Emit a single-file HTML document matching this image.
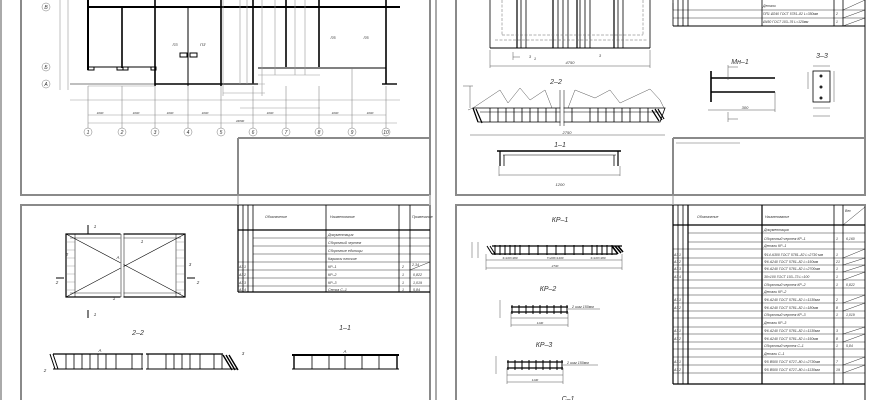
<!DOCTYPE html>
<html><head><meta charset="utf-8"><style>
html,body{margin:0;padding:0;background:#fff;}
svg{display:block;}
text{font-family:"Liberation Sans","DejaVu Sans",sans-serif;font-style:italic;fill:#333;}
</style></head><body>
<svg width="870" height="400" viewBox="0 0 870 400" xmlns="http://www.w3.org/2000/svg">
<rect width="870" height="400" fill="#fff"/>
<!-- sheet frames -->
<g fill="none" stroke="#8a8a8a" stroke-width="2">
<line x1="1" y1="0" x2="1" y2="400" stroke="#aaa"/>
<line x1="436" y1="0" x2="436" y2="400" stroke="#aaa"/>
<rect x="21" y="-5" width="409" height="200"/>
<rect x="456" y="-5" width="409" height="200"/>
<rect x="21" y="205" width="409" height="200"/>
<rect x="456" y="205" width="409" height="200"/>
<line x1="238" y1="138" x2="430" y2="138"/><line x1="238" y1="138" x2="238" y2="195"/>
<line x1="673" y1="138" x2="865" y2="138"/><line x1="673" y1="138" x2="673" y2="195"/>
<line x1="430" y1="195" x2="430" y2="205" stroke="#bbb"/>
</g>
<line x1="238" y1="195" x2="238" y2="205" stroke="#999"/>
<line x1="673" y1="195" x2="673" y2="205" stroke="#999"/>
<line x1="676" y1="143" x2="740" y2="143" stroke="#666" stroke-width="0.6"/>

<!-- TOP LEFT plan -->
<g stroke="#000" fill="none">
<line x1="88" y1="7" x2="400" y2="7" stroke-width="2"/>
<line x1="88" y1="0" x2="88" y2="70" stroke-width="2"/>
<line x1="122" y1="7" x2="122" y2="68" stroke-width="1.6"/>
<line x1="155" y1="0" x2="155" y2="86" stroke-width="1.6"/>
<line x1="188" y1="7" x2="188" y2="86" stroke-width="1"/>
<line x1="221" y1="0" x2="221" y2="86" stroke-width="1.6"/>
<line x1="253" y1="0" x2="253" y2="84" stroke-width="1.6"/>
<line x1="286" y1="0" x2="286" y2="67" stroke-width="1.6"/>
<line x1="319" y1="0" x2="319" y2="67" stroke-width="1.6"/>
<line x1="386" y1="0" x2="386" y2="84" stroke-width="1.6"/>
<line x1="155" y1="84" x2="258" y2="84" stroke-width="1.4"/>
<line x1="258" y1="68" x2="386" y2="68" stroke-width="1"/>
<line x1="88" y1="67" x2="155" y2="67" stroke-width="1"/>
<line x1="70" y1="84" x2="155" y2="84" stroke-width="0.6"/>
<line x1="382" y1="84" x2="397" y2="84" stroke-width="1.4"/>
<rect x="180" y="53" width="7" height="4"/><rect x="190" y="53" width="7" height="4"/>
<rect x="88" y="67" width="6" height="3"/><rect x="117" y="67" width="6" height="3"/><rect x="123" y="67" width="5" height="3"/><rect x="151" y="67" width="5" height="3"/>
</g>
<g stroke="#999" stroke-width="0.6" fill="none">
<line x1="223" y1="0" x2="223" y2="96"/><line x1="240" y1="0" x2="240" y2="84"/><line x1="247" y1="0" x2="247" y2="84"/>
<line x1="262" y1="0" x2="262" y2="96"/><line x1="275" y1="0" x2="275" y2="75"/><line x1="295" y1="0" x2="295" y2="75"/><line x1="305" y1="0" x2="305" y2="75"/>
<line x1="223" y1="84" x2="265" y2="84"/><line x1="223" y1="93" x2="265" y2="93"/><line x1="258" y1="75" x2="320" y2="75"/>
<line x1="88" y1="86" x2="155" y2="86"/>
<line x1="60" y1="0" x2="60" y2="90"/><line x1="68" y1="0" x2="68" y2="90"/>
<line x1="70" y1="100" x2="400" y2="100"/><line x1="240" y1="108" x2="320" y2="108"/>
<line x1="88" y1="115" x2="386" y2="115"/><line x1="88" y1="123" x2="397" y2="123"/>
</g>
<g stroke="#777" stroke-width="0.5" fill="none">
<line x1="88" y1="86" x2="88" y2="128"/><line x1="122" y1="86" x2="122" y2="128"/><line x1="155" y1="86" x2="155" y2="128"/><line x1="188" y1="86" x2="188" y2="128"/><line x1="221" y1="86" x2="221" y2="128"/><line x1="253" y1="86" x2="253" y2="128"/><line x1="286" y1="86" x2="286" y2="128"/><line x1="319" y1="86" x2="319" y2="128"/><line x1="352" y1="68" x2="352" y2="128"/><line x1="386" y1="86" x2="386" y2="128"/>
<circle cx="88" cy="132" r="4"/><circle cx="122" cy="132" r="4"/><circle cx="155" cy="132" r="4"/><circle cx="188" cy="132" r="4"/><circle cx="221" cy="132" r="4"/><circle cx="253" cy="132" r="4"/><circle cx="286" cy="132" r="4"/><circle cx="319" cy="132" r="4"/><circle cx="352" cy="132" r="4"/><circle cx="386" cy="132" r="4"/>
<circle cx="46" cy="7" r="4"/><circle cx="46" cy="67" r="4"/><circle cx="46" cy="84" r="4"/>
</g>
<g font-size="5" text-anchor="middle">
<text x="88" y="134">1</text><text x="122" y="134">2</text><text x="155" y="134">3</text><text x="188" y="134">4</text><text x="221" y="134">5</text><text x="253" y="134">6</text><text x="286" y="134">7</text><text x="319" y="134">8</text><text x="352" y="134">9</text><text x="386" y="134">10</text>
<text x="46" y="9">В</text><text x="46" y="69">Б</text><text x="46" y="86">А</text>
<text x="175" y="46" font-size="4">П3</text><text x="203" y="46" font-size="4">П3'</text><text x="333" y="39" font-size="4">П5</text><text x="366" y="39" font-size="4">П5</text>
<text x="100" y="114" font-size="3">3200</text><text x="136" y="114" font-size="3">3200</text><text x="170" y="114" font-size="3">3200</text><text x="205" y="114" font-size="3">3200</text><text x="270" y="114" font-size="3">3200</text><text x="335" y="114" font-size="3">3200</text><text x="370" y="114" font-size="3">3200</text>
<text x="240" y="122" font-size="3">44800</text>
</g>

<!-- TOP RIGHT -->
<g stroke="#000" stroke-width="0.8" fill="none">
<line x1="490" y1="48" x2="650" y2="48" stroke-width="1"/>
<line x1="490" y1="0" x2="490" y2="48"/><line x1="650" y1="0" x2="650" y2="48"/>
<line x1="517" y1="0" x2="517" y2="48" stroke-width="1.2"/><line x1="521" y1="0" x2="521" y2="48"/><line x1="526" y1="0" x2="526" y2="48"/>
<line x1="553" y1="0" x2="553" y2="48" stroke-width="1.2"/><line x1="558" y1="0" x2="558" y2="48"/><line x1="563" y1="0" x2="563" y2="48"/><line x1="568" y1="0" x2="568" y2="48"/>
<line x1="577" y1="0" x2="577" y2="48" stroke-width="1.2"/><line x1="580" y1="0" x2="580" y2="48"/><line x1="585" y1="0" x2="585" y2="48"/><line x1="590" y1="0" x2="590" y2="48"/>
<line x1="614" y1="0" x2="614" y2="48" stroke-width="1.2"/><line x1="618" y1="0" x2="618" y2="48"/><line x1="623" y1="0" x2="623" y2="48"/>
</g>
<g stroke="#666" stroke-width="0.5" fill="none" stroke-dasharray="3,1.5">
<line x1="502" y1="0" x2="502" y2="35"/><line x1="643" y1="0" x2="643" y2="35"/><line x1="502" y1="35" x2="643" y2="35"/><line x1="495" y1="40" x2="648" y2="40"/>
</g>
<g stroke="#555" stroke-width="0.5" fill="none">
<line x1="490" y1="66" x2="650" y2="66"/><line x1="490" y1="50" x2="490" y2="68"/><line x1="650" y1="50" x2="650" y2="68"/>
<line x1="513" y1="52" x2="513" y2="60"/><line x1="513" y1="57" x2="520" y2="57"/>
<path d="M468 110 L473 108 L500 90 L508 103 L520 88 L530 100 L545 90 L552 108"/>
<path d="M568 108 L575 90 L595 98 L610 90 L620 103 L650 89 L660 100 L664 108"/>
<line x1="463" y1="86" x2="473" y2="86"/><line x1="470" y1="86" x2="470" y2="108"/>
<line x1="470" y1="135" x2="665" y2="135"/>
<line x1="499" y1="175" x2="620" y2="175"/><line x1="499" y1="166" x2="499" y2="176"/><line x1="620" y1="166" x2="620" y2="176"/>
</g>
<g stroke="#000" fill="none">
<path d="M473 108 L665 108 L660 122 L478 122 Z" stroke-width="0.8"/>
<line x1="480" y1="112" x2="660" y2="112" stroke-width="0.5"/>
<path d="M478 122 L473 108 M482 123 L476 109" stroke-width="1.2"/>
<path d="M655 109 L662 120 M658 109 L664 119 M652 110 L659 121" stroke-width="1.2"/>
</g>
<g stroke="#fff" stroke-width="3"><line x1="562" y1="90" x2="562" y2="126"/></g>
<g stroke="#000" stroke-width="0.5"><line x1="560" y1="90" x2="560" y2="126"/><line x1="564" y1="90" x2="564" y2="126"/></g>
<g stroke="#000" stroke-width="0.8">
<line x1="490" y1="108" x2="490" y2="122"/><line x1="498" y1="108" x2="498" y2="122"/><line x1="506" y1="108" x2="506" y2="122"/><line x1="514" y1="108" x2="514" y2="122"/><line x1="522" y1="108" x2="522" y2="122"/><line x1="530" y1="108" x2="530" y2="122"/><line x1="538" y1="108" x2="538" y2="122"/><line x1="546" y1="108" x2="546" y2="122"/><line x1="556" y1="108" x2="556" y2="122"/>
<line x1="572" y1="108" x2="572" y2="122"/><line x1="590" y1="108" x2="590" y2="122"/><line x1="598" y1="108" x2="598" y2="122"/><line x1="606" y1="108" x2="606" y2="122"/><line x1="614" y1="108" x2="614" y2="122"/><line x1="622" y1="108" x2="622" y2="122"/><line x1="630" y1="108" x2="630" y2="122"/><line x1="640" y1="108" x2="640" y2="122"/><line x1="648" y1="108" x2="648" y2="122"/>
</g>
<g stroke="#000" fill="none">
<line x1="497" y1="151" x2="621" y2="151" stroke-width="1.4"/>
<line x1="503" y1="155" x2="616" y2="155" stroke-width="0.6"/>
<line x1="500" y1="151" x2="500" y2="166" stroke-width="1.2"/><line x1="504" y1="155" x2="504" y2="166" stroke-width="0.8"/>
<line x1="618" y1="151" x2="618" y2="166" stroke-width="1.2"/><line x1="614" y1="155" x2="614" y2="166" stroke-width="0.8"/>
<line x1="711" y1="71" x2="711" y2="102" stroke-width="1.6"/>
<line x1="711" y1="78" x2="775" y2="78" stroke-width="1.4"/><line x1="711" y1="92" x2="775" y2="92" stroke-width="1.4"/>
<rect x="813" y="71" width="17" height="31" stroke-width="0.8"/>
</g>
<g fill="#222"><circle cx="821" cy="76" r="1.5"/><circle cx="821" cy="87" r="1.5"/><circle cx="821" cy="98" r="1.5"/></g>
<g stroke="#555" stroke-width="0.5" fill="none">
<line x1="708" y1="110" x2="775" y2="110"/><line x1="775" y1="92" x2="775" y2="112"/>
<line x1="728" y1="65" x2="728" y2="80"/><line x1="728" y1="67" x2="738" y2="67"/><line x1="728" y1="112" x2="728" y2="122"/><line x1="728" y1="119" x2="738" y2="119"/>
<line x1="813" y1="66" x2="830" y2="66"/><line x1="813" y1="116" x2="830" y2="116"/><line x1="813" y1="108" x2="830" y2="108"/><line x1="834" y1="71" x2="834" y2="102"/><line x1="808" y1="72" x2="808" y2="89"/>
</g>
<g font-size="7" text-anchor="middle"><text x="556" y="84">2–2</text><text x="560" y="147">1–1</text><text x="740" y="64">Мн–1</text><text x="822" y="58">3–3</text></g>
<g font-size="4" text-anchor="middle"><text x="570" y="64">4750</text><text x="567" y="134">2750</text><text x="560" y="186">1200</text><text x="745" y="109">300</text><text x="530" y="58">3</text><text x="600" y="57">3</text><text x="535" y="60">1</text></g>
<!-- top right table -->
<g stroke="#000" stroke-width="0.8" fill="none">
<line x1="673" y1="0" x2="673" y2="26"/><line x1="678" y1="0" x2="678" y2="26"/><line x1="683" y1="0" x2="683" y2="26"/><line x1="688" y1="0" x2="688" y2="26"/>
<line x1="762" y1="0" x2="762" y2="26"/><line x1="834" y1="0" x2="834" y2="26"/><line x1="843" y1="0" x2="843" y2="26"/>
<line x1="673" y1="26" x2="865" y2="26" stroke-width="1"/>
<line x1="673" y1="10" x2="865" y2="10" stroke-width="0.4"/><line x1="673" y1="18" x2="865" y2="18" stroke-width="0.4"/>
<line x1="673" y1="3" x2="673" y2="10" stroke-width="0.4"/>
</g>
<g font-size="3.4"><text x="763" y="7">Детали</text><text x="763" y="15">ПП1 Ø240 ГОСТ 5781–82 L=350мм</text><text x="763" y="23">Ø450 ГОСТ 103–76 L=120мм</text><text x="836" y="15">2</text><text x="836" y="23">1</text></g>

<!-- BOTTOM LEFT -->
<g stroke="#000" fill="none">
<rect x="66" y="234" width="119" height="63" stroke-width="1.2"/>
<line x1="70" y1="238" x2="181" y2="238" stroke-width="0.4"/><line x1="70" y1="293" x2="181" y2="293" stroke-width="0.4"/>
<line x1="75" y1="234" x2="75" y2="297" stroke-width="0.5"/><line x1="176" y1="234" x2="176" y2="297" stroke-width="0.5"/>
<line x1="66" y1="234" x2="185" y2="297" stroke-width="0.6"/><line x1="66" y1="297" x2="185" y2="234" stroke-width="0.6"/>
<line x1="122" y1="232" x2="122" y2="299" stroke="#fff" stroke-width="3"/>
<line x1="121" y1="234" x2="121" y2="297" stroke-width="0.5"/><line x1="124" y1="234" x2="124" y2="297" stroke-width="0.5"/>
<line x1="88" y1="225" x2="88" y2="234" stroke-width="1"/><line x1="88" y1="310" x2="88" y2="318" stroke-width="1"/>
<line x1="56" y1="278" x2="64" y2="278" stroke-width="1"/><line x1="187" y1="278" x2="195" y2="278" stroke-width="1"/>
</g>
<g stroke="#666" stroke-width="0.3"><line x1="66" y1="242" x2="75" y2="242"/><line x1="66" y1="250" x2="75" y2="250"/><line x1="66" y1="258" x2="75" y2="258"/><line x1="66" y1="266" x2="75" y2="266"/><line x1="66" y1="274" x2="75" y2="274"/><line x1="66" y1="282" x2="75" y2="282"/><line x1="66" y1="290" x2="75" y2="290"/><line x1="176" y1="242" x2="185" y2="242"/><line x1="176" y1="250" x2="185" y2="250"/><line x1="176" y1="258" x2="185" y2="258"/><line x1="176" y1="266" x2="185" y2="266"/><line x1="176" y1="274" x2="185" y2="274"/><line x1="176" y1="282" x2="185" y2="282"/><line x1="176" y1="290" x2="185" y2="290"/></g>
<g stroke="#000" fill="none">
<line x1="53" y1="354" x2="143" y2="354" stroke-width="1.2"/><line x1="146" y1="354" x2="223" y2="354" stroke-width="1.2"/>
<line x1="53" y1="369" x2="143" y2="369" stroke-width="1"/><line x1="146" y1="369" x2="238" y2="369" stroke-width="1"/>
<path d="M50 354 L55 369 M53 354 L58 369" stroke-width="1"/>
<path d="M223 355 L232 370 M226 355 L235 370 M229 355 L238 370" stroke-width="1.4"/>
<line x1="292" y1="355" x2="399" y2="355" stroke-width="2"/><line x1="292" y1="369" x2="399" y2="369" stroke-width="1"/>
<line x1="294" y1="355" x2="294" y2="369" stroke-width="1.4"/><line x1="397" y1="355" x2="397" y2="369" stroke-width="1.4"/>
</g>
<g stroke="#000" stroke-width="0.8">
<line x1="66" y1="354" x2="66" y2="369"/><line x1="74" y1="354" x2="74" y2="369"/><line x1="82" y1="354" x2="82" y2="369"/><line x1="90" y1="354" x2="90" y2="369"/><line x1="98" y1="354" x2="98" y2="369"/><line x1="106" y1="354" x2="106" y2="369"/><line x1="116" y1="354" x2="116" y2="369"/><line x1="132" y1="354" x2="132" y2="369"/><line x1="142" y1="354" x2="142" y2="369"/>
<line x1="148" y1="354" x2="148" y2="369"/><line x1="166" y1="354" x2="166" y2="369"/><line x1="174" y1="354" x2="174" y2="369"/><line x1="182" y1="354" x2="182" y2="369"/><line x1="190" y1="354" x2="190" y2="369"/><line x1="200" y1="354" x2="200" y2="369"/><line x1="214" y1="354" x2="214" y2="369"/><line x1="222" y1="354" x2="222" y2="369"/>
<line x1="312" y1="355" x2="312" y2="369"/><line x1="329" y1="355" x2="329" y2="369"/><line x1="345" y1="355" x2="345" y2="369"/><line x1="362" y1="355" x2="362" y2="369"/><line x1="379" y1="355" x2="379" y2="369"/>
</g>
<g font-size="7" text-anchor="middle" fill="#555"><text x="138" y="335">2–2</text><text x="345" y="330">1–1</text></g>
<g font-size="4.5" text-anchor="middle"><text x="95" y="228">1</text><text x="95" y="316">1</text><text x="57" y="284">2</text><text x="198" y="284">2</text><text x="118" y="259">А</text><text x="142" y="243">1</text><text x="114" y="300">1</text><text x="67" y="256">2</text><text x="190" y="266">3</text><text x="100" y="352">А</text><text x="345" y="353">А</text><text x="45" y="372">2</text><text x="243" y="355">3</text></g>
<!-- BL table -->
<g stroke="#000" stroke-width="0.8" fill="none">
<line x1="238" y1="205" x2="238" y2="292" stroke-width="1.2"/><line x1="243" y1="205" x2="243" y2="292"/><line x1="248" y1="205" x2="248" y2="292"/><line x1="253" y1="205" x2="253" y2="292"/>
<line x1="326" y1="205" x2="326" y2="292"/><line x1="399" y1="205" x2="399" y2="292"/><line x1="410" y1="205" x2="410" y2="292"/>
<line x1="238" y1="230" x2="430" y2="230" stroke-width="1.2"/><line x1="238" y1="292" x2="430" y2="292" stroke-width="1.2"/>
</g>
<g stroke="#000" stroke-width="0.4"><line x1="253" y1="238" x2="430" y2="238"/><line x1="253" y1="246" x2="430" y2="246"/><line x1="253" y1="254" x2="430" y2="254"/><line x1="238" y1="262" x2="430" y2="262"/><line x1="238" y1="270" x2="430" y2="270"/><line x1="238" y1="278" x2="430" y2="278"/><line x1="238" y1="286" x2="430" y2="286"/></g>
<g font-size="3.6"><text x="265" y="218">Обозначение</text><text x="330" y="218">Наименование</text><text x="412" y="218">Примечание</text>
<text x="328" y="236">Документация</text><text x="328" y="244">Сборочный чертеж</text><text x="328" y="252">Сборочные единицы</text><text x="328" y="260">Каркасы плоские</text><text x="328" y="268">КР–1</text><text x="328" y="276">КР–2</text><text x="328" y="284">КР–3</text><text x="328" y="291">Сетка С–1</text>
<text x="239" y="268">А3</text><text x="244" y="268">1</text><text x="239" y="276">А3</text><text x="244" y="276">2</text><text x="239" y="284">А3</text><text x="244" y="284">3</text><text x="239" y="291">А3</text><text x="244" y="291">4</text>
<text x="402" y="268">2</text><text x="402" y="276">1</text><text x="402" y="284">1</text><text x="402" y="291">1</text><text x="413" y="276">0,822</text><text x="413" y="284">1,019</text><text x="413" y="291">5,84</text><text x="412" y="266">2,34</text></g>

<!-- BOTTOM RIGHT -->
<g font-size="7" text-anchor="middle" fill="#555"><text x="560" y="222">КР–1</text><text x="548" y="291">КР–2</text><text x="544" y="347">КР–3</text><text x="568" y="401">С–1</text></g>
<g stroke="#000" fill="none">
<line x1="492" y1="246" x2="622" y2="246" stroke-width="1.2"/><line x1="492" y1="254" x2="617" y2="254" stroke-width="1.2"/>
<path d="M487 246 L492 254 M490 246 L495 254" stroke-width="1"/>
<path d="M612 246 L618 254 M615 246 L621 253 M618 246 L623 252" stroke-width="1.6"/>
<line x1="511" y1="307" x2="568" y2="307" stroke-width="1.2"/><line x1="511" y1="312" x2="568" y2="312" stroke-width="1.2"/>
<line x1="507" y1="362" x2="563" y2="362" stroke-width="1.2"/><line x1="507" y1="368" x2="563" y2="368" stroke-width="1.2"/>
</g>
<g stroke="#000" stroke-width="1">
<line x1="495" y1="245" x2="495" y2="255"/><line x1="500" y1="245" x2="500" y2="255"/><line x1="505" y1="245" x2="505" y2="255"/><line x1="510" y1="245" x2="510" y2="255"/><line x1="515" y1="245" x2="515" y2="255"/><line x1="520" y1="245" x2="520" y2="255"/><line x1="529" y1="245" x2="529" y2="255"/><line x1="538" y1="245" x2="538" y2="255"/><line x1="547" y1="245" x2="547" y2="255"/><line x1="556" y1="245" x2="556" y2="255"/><line x1="565" y1="245" x2="565" y2="255"/><line x1="574" y1="245" x2="574" y2="255"/><line x1="583" y1="245" x2="583" y2="255"/><line x1="592" y1="245" x2="592" y2="255"/><line x1="597" y1="245" x2="597" y2="255"/><line x1="602" y1="245" x2="602" y2="255"/><line x1="607" y1="245" x2="607" y2="255"/><line x1="612" y1="245" x2="612" y2="255"/>
<line x1="512" y1="305" x2="512" y2="314"/><line x1="519" y1="305" x2="519" y2="314"/><line x1="526" y1="305" x2="526" y2="314"/><line x1="533" y1="305" x2="533" y2="314"/><line x1="540" y1="305" x2="540" y2="314"/><line x1="547" y1="305" x2="547" y2="314"/><line x1="554" y1="305" x2="554" y2="314"/><line x1="561" y1="305" x2="561" y2="314"/><line x1="567" y1="305" x2="567" y2="314"/>
<line x1="508" y1="360" x2="508" y2="370"/><line x1="515" y1="360" x2="515" y2="370"/><line x1="522" y1="360" x2="522" y2="370"/><line x1="529" y1="360" x2="529" y2="370"/><line x1="536" y1="360" x2="536" y2="370"/><line x1="543" y1="360" x2="543" y2="370"/><line x1="550" y1="360" x2="550" y2="370"/><line x1="557" y1="360" x2="557" y2="370"/><line x1="562" y1="360" x2="562" y2="370"/>
</g>
<g stroke="#555" stroke-width="0.5" fill="none">
<line x1="486" y1="260" x2="622" y2="260"/><line x1="486" y1="268" x2="622" y2="268"/><line x1="486" y1="254" x2="486" y2="270"/><line x1="622" y1="254" x2="622" y2="270"/>
<line x1="478" y1="242" x2="478" y2="258"/><line x1="472" y1="242" x2="472" y2="258"/>
<line x1="511" y1="318" x2="568" y2="318"/><line x1="511" y1="325" x2="568" y2="325"/><line x1="511" y1="312" x2="511" y2="327"/><line x1="568" y1="312" x2="568" y2="327"/>
<line x1="507" y1="375" x2="563" y2="375"/><line x1="507" y1="382" x2="563" y2="382"/><line x1="507" y1="368" x2="507" y2="384"/><line x1="563" y1="368" x2="563" y2="384"/>
<line x1="568" y1="309" x2="600" y2="309"/><line x1="563" y1="365" x2="598" y2="365"/>
<line x1="500" y1="300" x2="500" y2="318"/><line x1="496" y1="356" x2="496" y2="374"/>
</g>
<g font-size="3.6"><text x="572" y="308">2 шаг 150мм</text><text x="567" y="364">2 шаг 150мм</text></g>
<g font-size="3" text-anchor="middle"><text x="555" y="267">2730</text><text x="540" y="324">1130</text><text x="535" y="381">1130</text><text x="555" y="259">7×200=1400</text><text x="510" y="259">3×100=300</text><text x="598" y="259">3×100=300</text></g>
<!-- BR table -->
<g stroke="#000" stroke-width="0.8" fill="none">
<line x1="673" y1="205" x2="673" y2="384" stroke-width="1.2"/><line x1="678" y1="205" x2="678" y2="384"/><line x1="683" y1="205" x2="683" y2="384"/><line x1="688" y1="205" x2="688" y2="384" stroke-width="1.2"/>
<line x1="762" y1="205" x2="762" y2="384" stroke-width="1.2"/><line x1="834" y1="205" x2="834" y2="384"/><line x1="843" y1="205" x2="843" y2="384"/>
<line x1="673" y1="225" x2="865" y2="225" stroke-width="1.2"/><line x1="673" y1="384" x2="865" y2="384" stroke-width="1.2"/>
</g>
<g stroke="#000" stroke-width="0.4">
<line x1="688" y1="233" x2="865" y2="233"/><line x1="688" y1="242" x2="865" y2="242"/><line x1="673" y1="249" x2="865" y2="249"/><line x1="673" y1="258" x2="865" y2="258"/><line x1="673" y1="265" x2="865" y2="265"/><line x1="673" y1="272" x2="865" y2="272"/><line x1="673" y1="280" x2="865" y2="280"/><line x1="673" y1="288" x2="865" y2="288"/><line x1="673" y1="295" x2="865" y2="295"/><line x1="673" y1="303" x2="865" y2="303"/><line x1="673" y1="311" x2="865" y2="311"/><line x1="673" y1="318" x2="865" y2="318"/><line x1="673" y1="327" x2="865" y2="327"/><line x1="673" y1="334" x2="865" y2="334"/><line x1="673" y1="342" x2="865" y2="342"/><line x1="673" y1="349" x2="865" y2="349"/><line x1="673" y1="357" x2="865" y2="357"/><line x1="673" y1="365" x2="865" y2="365"/><line x1="673" y1="373" x2="865" y2="373"/>
</g>
<g font-size="3.5">
<text x="697" y="218">Обозначение</text><text x="765" y="218">Наименование</text><text x="845" y="212">Вес</text>
<text x="764" y="231">Документация</text><text x="764" y="240">Сборочный чертеж КР–1</text><text x="764" y="247">Детали КР–1</text>
<text x="764" y="256">Ф14 А300 ГОСТ 5781–82 L=2730 мм</text><text x="764" y="263">Ф6 А240 ГОСТ 5781–82 L=150мм</text><text x="764" y="270">Ф6 А240 ГОСТ 5781–82 L=2700мм</text><text x="764" y="278">30×100 ГОСТ 103–73 L=100</text>
<text x="764" y="286">Сборочный чертеж КР–2</text><text x="764" y="293">Детали КР–2</text><text x="764" y="301">Ф6 А240 ГОСТ 5781–82 L=1130мм</text><text x="764" y="309">Ф6 А240 ГОСТ 5781–82 L=180мм</text>
<text x="764" y="316">Сборочный чертеж КР–3</text><text x="764" y="324">Детали КР–3</text><text x="764" y="332">Ф6 А240 ГОСТ 5781–82 L=1130мм</text><text x="764" y="340">Ф6 А240 ГОСТ 5781–82 L=150мм</text>
<text x="764" y="347">Сборочный чертеж С–1</text><text x="764" y="355">Детали С–1</text><text x="764" y="363">Ф5 В500 ГОСТ 6727–80 L=2730мм</text><text x="764" y="371">Ф5 В500 ГОСТ 6727–80 L=1130мм</text>
<text x="836" y="240">1</text><text x="836" y="256">1</text><text x="836" y="263">21</text><text x="836" y="270">1</text><text x="836" y="278">1</text><text x="836" y="286">1</text><text x="836" y="301">2</text><text x="836" y="309">8</text><text x="836" y="316">1</text><text x="836" y="332">3</text><text x="836" y="340">8</text><text x="836" y="347">1</text><text x="836" y="363">7</text><text x="836" y="371">19</text>
<text x="846" y="240">6,160</text><text x="846" y="286">0,822</text><text x="846" y="316">1,019</text><text x="846" y="347">5,84</text>
<text x="674" y="256">А3</text><text x="679" y="256">1</text><text x="674" y="263">А3</text><text x="679" y="263">2</text><text x="674" y="270">А3</text><text x="679" y="270">3</text><text x="674" y="278">А3</text><text x="679" y="278">4</text><text x="674" y="301">А3</text><text x="679" y="301">1</text><text x="674" y="309">А3</text><text x="679" y="309">2</text><text x="674" y="332">А3</text><text x="679" y="332">1</text><text x="674" y="340">А3</text><text x="679" y="340">2</text><text x="674" y="363">А3</text><text x="679" y="363">1</text><text x="674" y="371">А3</text><text x="679" y="371">2</text>
</g>
<g stroke="#000" stroke-width="0.4"><line x1="843" y1="258" x2="865" y2="249"/><line x1="843" y1="265" x2="865" y2="258"/><line x1="843" y1="272" x2="865" y2="265"/><line x1="843" y1="280" x2="865" y2="272"/><line x1="843" y1="303" x2="865" y2="295"/><line x1="843" y1="311" x2="865" y2="303"/><line x1="843" y1="334" x2="865" y2="327"/><line x1="843" y1="342" x2="865" y2="334"/><line x1="843" y1="365" x2="865" y2="357"/><line x1="843" y1="373" x2="865" y2="365"/><line x1="843" y1="225" x2="865" y2="207"/><line x1="843" y1="10" x2="865" y2="0"/><line x1="843" y1="18" x2="865" y2="10"/><line x1="843" y1="26" x2="865" y2="18"/><line x1="410" y1="270" x2="430" y2="262"/></g>
</svg>
</body></html>
